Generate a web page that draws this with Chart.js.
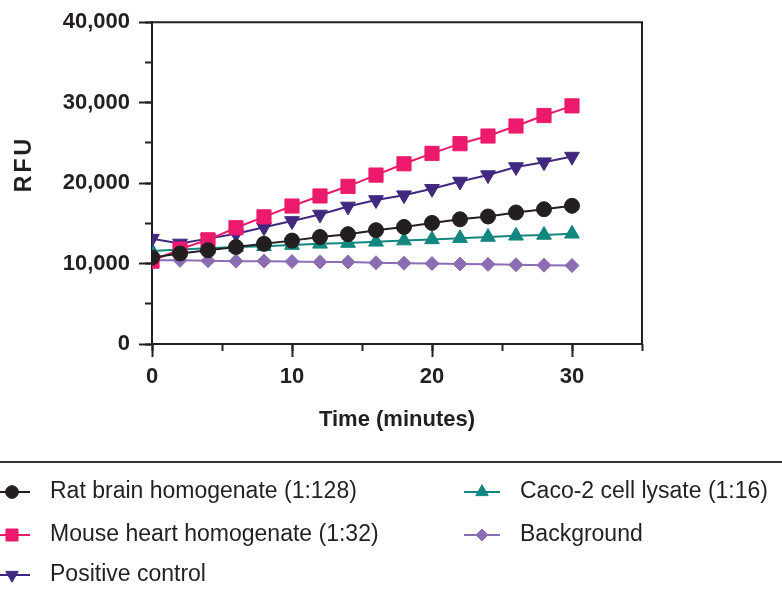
<!DOCTYPE html>
<html lang="en">
<head>
    <meta charset="UTF-8">
    <title>RFU vs Time</title>
    <script src="https://cdn.jsdelivr.net/npm/chart.js"></script>
    <style>
        html, body { margin: 0; padding: 0; background: #fff; }
        #wrap { width: 782px; height: 598px; }
    </style>
</head>
<body>
    <div id="wrap"><canvas id="rfuChart" width="782" height="598"></canvas></div>

    <script>
    // Time points (minutes)
    const times = [0, 2, 4, 6, 8, 10, 12, 14, 16, 18, 20, 22, 24, 26, 28, 30];

    // RFU readings per sample
    const ratBrain     = [10750, 11250, 11650, 12050, 12450, 12850, 13300, 13650, 14150, 14550, 15050, 15500, 15850, 16350, 16750, 17180];
    const mouseHeart   = [10300, 11800, 12950, 14450, 15800, 17150, 18400, 19600, 21000, 22400, 23700, 24900, 25850, 27100, 28400, 29600];
    const positiveCtrl = [13100, 12500, 13100, 13700, 14500, 15300, 16100, 17100, 17900, 18500, 19300, 20200, 21000, 22000, 22600, 23300];
    const caco2        = [11550, 11750, 11900, 12050, 12150, 12300, 12450, 12550, 12700, 12850, 13000, 13150, 13300, 13450, 13550, 13700];
    const background   = [10400, 10400, 10350, 10300, 10300, 10250, 10200, 10200, 10100, 10050, 10000, 9950, 9900, 9850, 9800, 9750];

    const seriesNames = [
        'Rat brain homogenate (1:128)',
        'Mouse heart homogenate (1:32)',
        'Positive control',
        'Caco-2 cell lysate (1:16)',
        'Background'
    ];

    const yTicks = [0, 10000, 20000, 30000, 40000];
    const xTicks = [0, 10, 20, 30];

    const INK = '#231f20';
    Chart.defaults.font.family = '"Liberation Sans", Arial, Helvetica, sans-serif';
    Chart.defaults.color = INK;

    function pts(vals) {
        return vals.map((v, i) => ({ x: times[i], y: v }));
    }

    function mkSet(label, vals, color, style, radius, rotation) {
        return {
            label: label,
            data: pts(vals),
            borderColor: color,
            backgroundColor: color,
            borderWidth: 2,
            pointStyle: style,
            pointRadius: radius,
            pointRotation: rotation || 0,
            pointBackgroundColor: color,
            pointBorderColor: color,
            pointBorderWidth: 1,
            tension: 0
        };
    }

    const datasets = [
        mkSet(seriesNames[0], ratBrain, '#231f20', 'circle', 7.5),
        mkSet(seriesNames[1], mouseHeart, '#ec1a6c', 'rect', 10),
        mkSet(seriesNames[2], positiveCtrl, '#41297f', 'triangle', 8.5, 180),
        mkSet(seriesNames[3], caco2, '#12877f', 'triangle', 8.5),
        mkSet(seriesNames[4], background, '#8b6db4', 'rectRot', 7)
    ];

    // box round the plot, the y title and the separator + legend below
    const decor = {
        id: 'decor',
        afterDraw(chart) {
            const ctx = chart.ctx;
            const a = chart.chartArea;
            ctx.save();
            ctx.strokeStyle = INK;
            ctx.lineWidth = 2;
            ctx.beginPath();
            ctx.moveTo(a.left, a.top);
            ctx.lineTo(a.right, a.top);
            ctx.lineTo(a.right, a.bottom);
            ctx.stroke();

            // y title
            ctx.save();
            ctx.translate(25, 164);
            ctx.rotate(-Math.PI / 2);
            ctx.font = 'bold 23px "Liberation Sans", Arial, sans-serif';
            ctx.letterSpacing = '3px';
            ctx.fillStyle = INK;
            ctx.textAlign = 'center';
            ctx.textBaseline = 'middle';
            ctx.fillText('RFU', 0, 0);
            ctx.restore();

            // separator
            ctx.strokeStyle = '#333';
            ctx.lineWidth = 2;
            ctx.beginPath();
            ctx.moveTo(0, 462);
            ctx.lineTo(782, 462);
            ctx.stroke();

            // legend
            const slots = [
                { x: 12, row: 0 }, { x: 12, row: 1 }, { x: 12, row: 2 },
                { x: 482, row: 0 }, { x: 482, row: 1 }
            ];
            const rows = [492, 535, 575];
            ctx.font = '23px "Liberation Sans", Arial, sans-serif';
            ctx.textBaseline = 'middle';
            ctx.textAlign = 'left';
            chart.data.datasets.forEach((ds, i) => {
                const s = slots[i];
                const y = rows[s.row];
                ctx.strokeStyle = ds.borderColor;
                ctx.fillStyle = ds.backgroundColor;
                ctx.lineWidth = 2;
                ctx.beginPath();
                ctx.moveTo(s.x - 18, y);
                ctx.lineTo(s.x + 18, y);
                ctx.stroke();
                ctx.lineWidth = 1;
                Chart.helpers.drawPoint(ctx, {
                    pointStyle: ds.pointStyle,
                    radius: ds.pointRadius * 0.85,
                    rotation: ds.pointRotation,
                    borderWidth: 1
                }, s.x, y);
                ctx.fillStyle = INK;
                ctx.fillText(ds.label, s.x + 38, y);
            });
            ctx.restore();
        }
    };

    const tickFont = { size: 22, weight: 'bold' };

    new Chart(document.getElementById('rfuChart'), {
        type: 'line',
        data: { datasets: datasets },
        options: {
            responsive: false,
            animation: false,
            layout: { padding: { left: 0, top: 18, right: 140, bottom: 165 } },
            plugins: { legend: { display: false }, tooltip: { enabled: false } },
            scales: {
                x: {
                    type: 'linear',
                    min: 0, max: 35,
                    weight: 1,
                    afterBuildTicks: s => { s.ticks = xTicks.map(v => ({ value: v })); },
                    afterFit: s => { s.height = 89; },
                    grid: { drawOnChartArea: false, tickLength: 13, tickWidth: 2, tickColor: INK },
                    border: { color: INK, width: 2 },
                    ticks: { font: tickFont, padding: 7, color: INK },
                    title: { display: true, text: 'Time (minutes)', font: tickFont, color: INK, padding: { top: 0, bottom: 0 } }
                },
                xMinor: {
                    type: 'linear', position: 'bottom',
                    min: 0, max: 35,
                    weight: 0,
                    ticks: { display: false, stepSize: 5 },
                    afterFit: s => { s.height = 0; },
                    grid: { drawOnChartArea: false, tickLength: 7, tickWidth: 2, tickColor: INK },
                    border: { display: false }
                },
                y: {
                    min: 0, max: 40000,
                    weight: 1,
                    afterBuildTicks: s => { s.ticks = yTicks.map(v => ({ value: v })); },
                    afterFit: s => { s.width = 152; },
                    grid: { drawOnChartArea: false, tickLength: 13, tickWidth: 2, tickColor: INK },
                    border: { color: INK, width: 2 },
                    ticks: { font: tickFont, padding: 9, color: INK }
                },
                yMinor: {
                    type: 'linear', position: 'left',
                    min: 0, max: 40000,
                    weight: 0,
                    ticks: { display: false, stepSize: 5000 },
                    afterFit: s => { s.width = 0; },
                    grid: { drawOnChartArea: false, tickLength: 7, tickWidth: 2, tickColor: INK },
                    border: { display: false }
                }
            }
        },
        plugins: [decor]
    });
    </script>
</body>
</html>
